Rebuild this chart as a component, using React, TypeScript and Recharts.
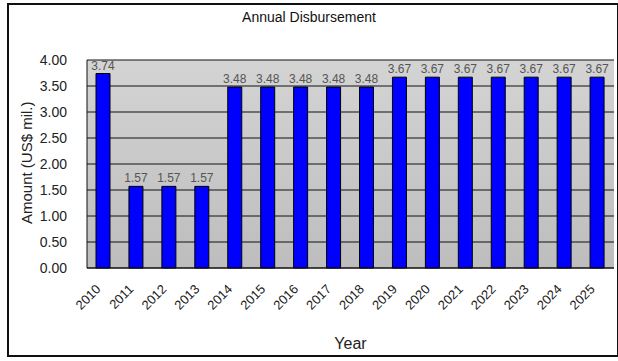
import React from "react";
import {
  BarChart,
  Bar,
  CartesianGrid,
  LabelList,
  XAxis,
  YAxis,
} from "recharts";

const years = [
  "2010", "2011", "2012", "2013", "2014", "2015", "2016", "2017",
  "2018", "2019", "2020", "2021", "2022", "2023", "2024", "2025",
];
const amounts = [
  3.74, 1.57, 1.57, 1.57, 3.48, 3.48, 3.48, 3.48,
  3.48, 3.67, 3.67, 3.67, 3.67, 3.67, 3.67, 3.67,
];
const yTicks = [0, 0.5, 1, 1.5, 2, 2.5, 3, 3.5, 4];

const data = years.map((year, i) => ({ year, amount: amounts[i] }));

const font = "'Liberation Sans', Arial, sans-serif";

// slanted year labels under the axis
const YearTick = (props: any) => {
  const { x, y, payload } = props;
  const ax = x - 2;
  const ay = y + 14;
  return (
    <text
      x={ax}
      y={ay}
      transform={`rotate(-45, ${ax}, ${ay})`}
      textAnchor="end"
      fontSize={13}
      fontFamily={font}
      fill="#222"
    >
      {payload.value}
    </text>
  );
};

const App = () => {
  return (
    <div
      style={{
        position: "absolute",
        left: 0,
        top: 0,
        width: 618,
        height: 361,
        background: "#fff",
        fontFamily: font,
      }}
    >
      <div
        style={{
          position: "absolute",
          left: 7,
          top: 3,
          width: 612,
          height: 354,
          border: "2px solid #111",
          boxSizing: "border-box",
        }}
      />
      <div
        style={{
          position: "absolute",
          left: 0,
          width: 618,
          top: 9,
          textAlign: "center",
          fontSize: 14,
          color: "#111",
        }}
      >
        Annual Disbursement
      </div>
      <div style={{ position: "absolute", left: 0, top: 0 }}>
        <BarChart
          width={618}
          height={361}
          data={data}
          margin={{ top: 60, right: 4, left: 30, bottom: 0 }}
          barCategoryGap={0}
        >
          <defs>
            <linearGradient id="plotBg" x1="0" y1="0" x2="0" y2="1">
              <stop offset="0%" stopColor="#d4d4d4" />
              <stop offset="100%" stopColor="#bdbdbd" />
            </linearGradient>
          </defs>
          <CartesianGrid
            vertical={false}
            stroke="#111"
            strokeWidth={1}
            fill="url(#plotBg)"
            fillOpacity={1}
          />
          <XAxis
            dataKey="year"
            height={93}
            interval={0}
            tick={<YearTick />}
            tickLine={false}
            axisLine={{ stroke: "#111" }}
            label={{
              value: "Year",
              position: "insideBottom",
              offset: 12,
              fontSize: 16,
              fill: "#222",
              fontFamily: font,
            }}
          />
          <YAxis
            width={57}
            domain={[0, 4]}
            ticks={yTicks}
            interval={0}
            tickFormatter={(v: number) => v.toFixed(2)}
            tick={{ fontSize: 14, fill: "#222", fontFamily: font }}
            tickLine={false}
            tickMargin={14}
            axisLine={{ stroke: "#111" }}
            label={{
              value: "Amount (US$ mil.)",
              angle: -90,
              position: "insideLeft",
              offset: -3,
              dy: 60,
              fontSize: 15,
              fill: "#222",
              fontFamily: font,
            }}
          />
          <Bar
            dataKey="amount"
            fill="#0000ff"
            stroke="#000"
            strokeWidth={1}
            barSize={14}
            isAnimationActive={false}
          >
            <LabelList
              dataKey="amount"
              position="top"
              offset={4}
              formatter={(v: any) => Number(v).toFixed(2)}
              fontSize={12}
              fill="#555"
              fontFamily={font}
            />
          </Bar>
        </BarChart>
      </div>
    </div>
  );
};

export default App;
